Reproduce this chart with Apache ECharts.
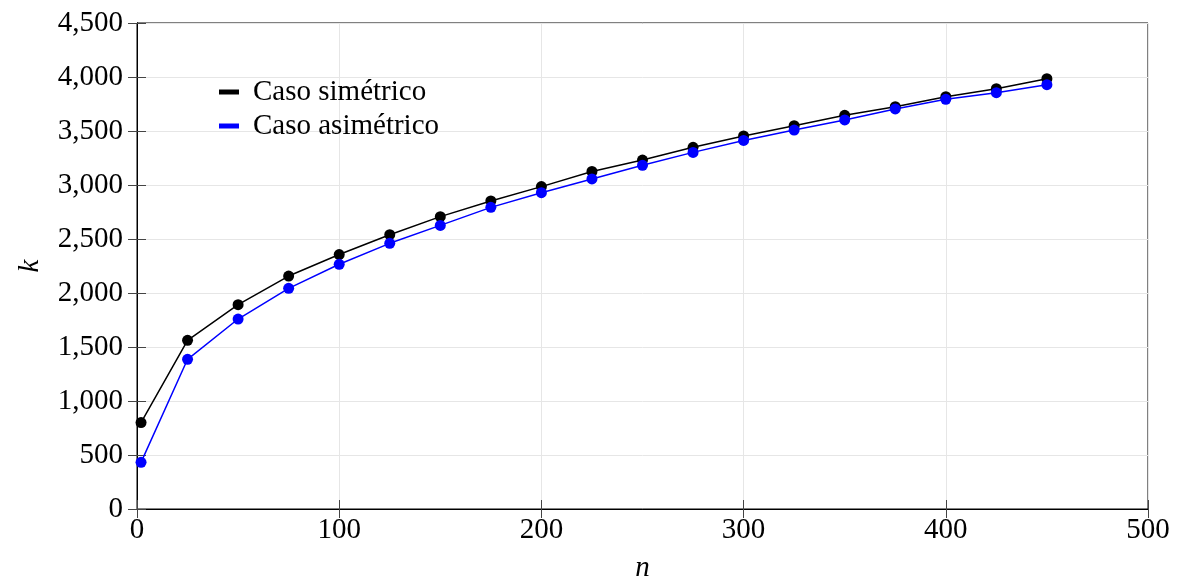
<!DOCTYPE html>
<html>
<head>
<meta charset="utf-8">
<script src="https://cdn.jsdelivr.net/npm/echarts@6/dist/echarts.min.js"></script>
<style>
html,body{margin:0;padding:0;background:#fff;overflow:hidden;}
#c{width:1184px;height:581px;}
</style>
</head>
<body>
<div id="c"></div>
<script>
const nValues = [2, 25, 50, 75, 100, 125, 150, 175, 200, 225, 250, 275, 300, 325, 350, 375, 400, 425, 450];
const kSimetrico = [800, 1562, 1892, 2157, 2356, 2540, 2707, 2852, 2985, 3125, 3231, 3349, 3454, 3549, 3645, 3725, 3818, 3892, 3984];
const kAsimetrico = [432, 1386, 1759, 2043, 2266, 2460, 2626, 2793, 2929, 3056, 3182, 3302, 3413, 3509, 3602, 3704, 3793, 3855, 3929];
const seriesNames = ['Caso simétrico', 'Caso asimétrico'];
const xLabelName = 'n';
const yLabelName = 'k';

const FONT = '"Liberation Serif", "DejaVu Serif", serif';
const chart = echarts.init(document.getElementById('c'), null, {renderer: 'canvas'});

function pair(xs, ys) { return xs.map((x, i) => [x, ys[i]]); }
function fmt(v) { return v.toString().replace(/\B(?=(\d{3})+(?!\d))/g, ','); }

const tickStyle = {show: true, inside: true, length: 9, lineStyle: {color: '#444', width: 1}};

chart.setOption({
  animation: false,
  backgroundColor: '#fff',
  grid: {left: 137, right: 36, top: 23, bottom: 72, show: true, borderColor: '#000', borderWidth: 1, containLabel: false, outerBoundsMode: 'none'},
  legend: {
    show: true,
    orient: 'vertical',
    left: 214,
    top: 72,
    itemWidth: 20,
    itemHeight: 5,
    itemGap: 4,
    icon: 'rect',
    textStyle: {fontFamily: FONT, fontSize: 29, color: '#000', lineHeight: 30, padding: [0, 0, 0, 9]},
    data: seriesNames
  },
  xAxis: [{
    type: 'value', min: 0, max: 500, interval: 100,
    name: xLabelName, nameLocation: 'middle', nameGap: 45,
    nameTextStyle: {fontFamily: FONT, fontSize: 29, fontStyle: 'italic', color: '#000'},
    axisLine: {show: true, lineStyle: {color: '#000', width: 1}},
    axisTick: tickStyle,
    axisLabel: {fontFamily: FONT, fontSize: 29, color: '#000', margin: 7},
    splitLine: {show: true, lineStyle: {color: '#e6e6e6', width: 1}}
  }, {
    type: 'value', min: 0, max: 500, interval: 100, position: 'top',
    axisLine: {show: true, lineStyle: {color: '#000', width: 1}},
    axisTick: tickStyle, axisLabel: {show: false}, splitLine: {show: false}
  }],
  yAxis: [{
    type: 'value', min: 0, max: 4500, interval: 500,
    name: yLabelName, nameLocation: 'middle', nameGap: 92, nameRotate: 90,
    nameTextStyle: {fontFamily: FONT, fontSize: 29, fontStyle: 'italic', color: '#000'},
    axisLine: {show: true, lineStyle: {color: '#000', width: 1}},
    axisTick: tickStyle,
    axisLabel: {fontFamily: FONT, fontSize: 29, color: '#000', margin: 14, formatter: fmt},
    splitLine: {show: true, lineStyle: {color: '#e6e6e6', width: 1}}
  }, {
    type: 'value', min: 0, max: 4500, interval: 500, position: 'right',
    axisLine: {show: true, lineStyle: {color: '#000', width: 1}},
    axisTick: tickStyle, axisLabel: {show: false}, splitLine: {show: false}
  }],
  series: [{
    name: seriesNames[0], type: 'line', data: pair(nValues, kSimetrico),
    symbol: 'circle', symbolSize: 11, showSymbol: true,
    itemStyle: {color: '#000'}, lineStyle: {color: '#000', width: 1.5}
  }, {
    name: seriesNames[1], type: 'line', data: pair(nValues, kAsimetrico),
    symbol: 'circle', symbolSize: 11, showSymbol: true,
    itemStyle: {color: '#0000ff'}, lineStyle: {color: '#0000ff', width: 1.5}
  }]
});
</script>
</body>
</html>
